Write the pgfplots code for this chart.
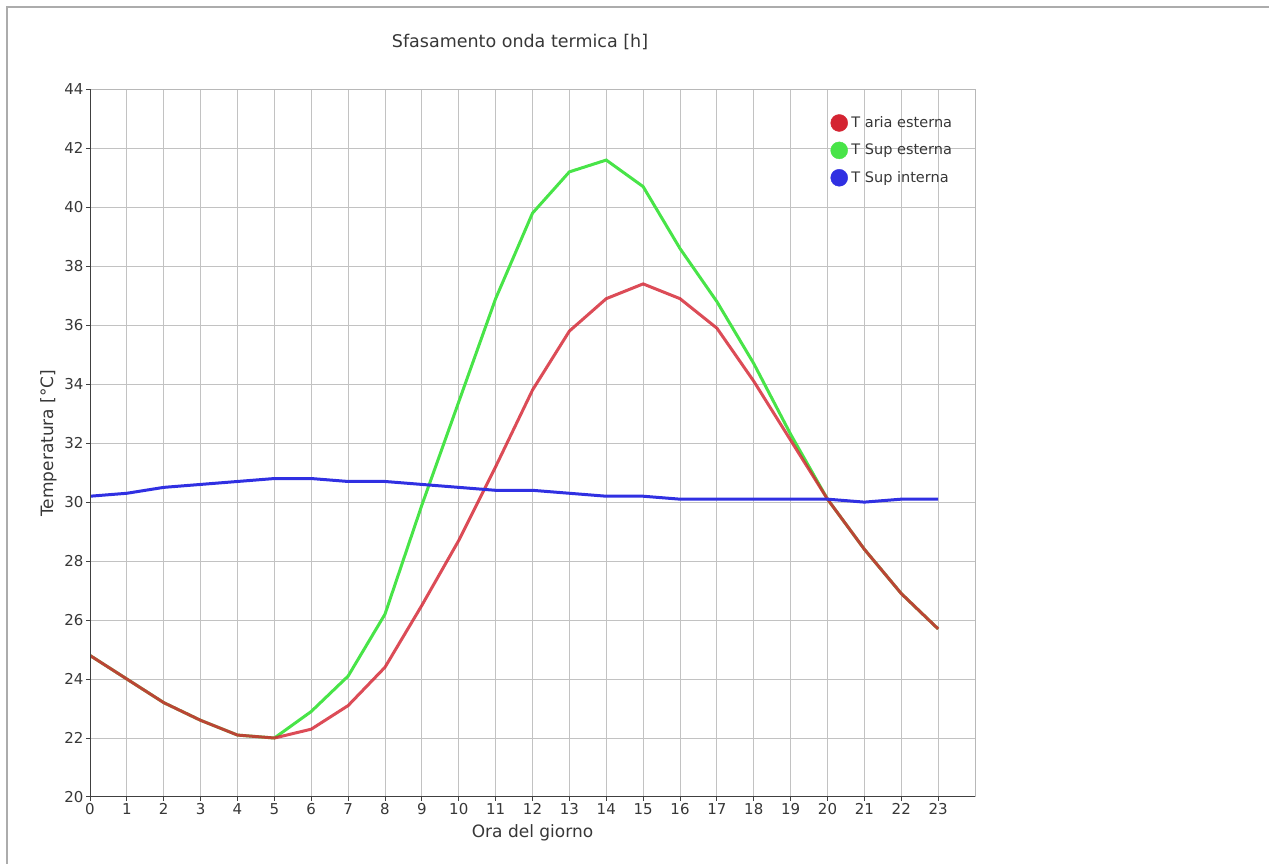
\documentclass[border=0pt]{standalone}
\usepackage{fontspec}
\setmainfont{DejaVu Sans}
\usepackage{pgfplots}
\pgfplotsset{compat=1.18}

\definecolor{cred}{RGB}{212,36,50}
\definecolor{cgreen}{RGB}{72,228,72}
\definecolor{cblue}{RGB}{48,48,226}
\definecolor{txt}{RGB}{55,55,55}

\begin{document}
\begin{tikzpicture}
% screenshot frame
\draw[gray!65, line width=2pt] (7pt,0pt) -- (7pt,857pt) -- (1269pt,857pt);

\node[text=txt, font=\fontsize{17.5}{19}\selectfont] at (520pt,822pt) {Sfasamento onda termica [h]};

\begin{axis}[
  at={(90pt,67pt)}, anchor=south west,
  scale only axis, width=885pt, height=707.7pt,
  xmin=0, xmax=24, ymin=20, ymax=44,
  xtick={0,...,23}, ytick={20,22,...,44},
  grid=major,
  major grid style={draw=black!24, line width=1pt},
  axis line style={draw=black!28, line width=1pt},
  tick align=outside, xtick pos=bottom, ytick pos=left,
  major tick length=4pt,
  tick style={draw=black!75, line width=1pt},
  /pgf/number format/assume math mode=true,
  ticklabel style={font=\fontsize{15}{16}\selectfont, text=txt},
  xticklabel style={yshift=1pt},
  yticklabel style={xshift=1pt},
  xlabel={Ora del giorno},
  ylabel={Temperatura [°C]},
  label style={font=\fontsize{17}{18}\selectfont, text=txt},
  xlabel style={at={(axis description cs:0.5,-0.051)}, anchor=center},
  ylabel style={at={(axis description cs:-0.047,0.5)}, anchor=center},
  legend cell align=left,
  legend style={draw=none, fill=none, at={(axis description cs:0.8365,0.965)}, anchor=north west,
    font=\fontsize{14.5}{16}\selectfont, text=txt, inner sep=0pt,
    nodes={inner sep=1pt}, row sep=10pt, column sep=2.5pt},
]
\addplot[cgreen, line width=3pt, forget plot] coordinates {
(0,24.8) (1,24.0) (2,23.2) (3,22.6) (4,22.1) (5,22.0) (6,22.9) (7,24.1)
(8,26.2) (9,29.9) (10,33.4) (11,36.9) (12,39.8) (13,41.2) (14,41.6) (15,40.7)
(16,38.6) (17,36.8) (18,34.7) (19,32.3) (20,30.1) (21,28.4) (22,26.9) (23,25.7)};
\addplot[cred, line width=3pt, opacity=0.82, forget plot] coordinates {
(0,24.8) (1,24.0) (2,23.2) (3,22.6) (4,22.1) (5,22.0) (6,22.3) (7,23.1)
(8,24.4) (9,26.5) (10,28.7) (11,31.2) (12,33.8) (13,35.8) (14,36.9) (15,37.4)
(16,36.9) (17,35.9) (18,34.1) (19,32.1) (20,30.1) (21,28.4) (22,26.9) (23,25.7)};
\addplot[cblue, line width=3pt, forget plot] coordinates {
(0,30.2) (1,30.3) (2,30.5) (3,30.6) (4,30.7) (5,30.8) (6,30.8) (7,30.7)
(8,30.7) (9,30.6) (10,30.5) (11,30.4) (12,30.4) (13,30.3) (14,30.2) (15,30.2)
(16,30.1) (17,30.1) (18,30.1) (19,30.1) (20,30.1) (21,30.0) (22,30.1) (23,30.1)};

\addlegendimage{legend image code/.code={\fill[cred] (8pt,0pt) circle (8.5pt);}}
\addlegendentry{T aria esterna}
\addlegendimage{legend image code/.code={\fill[cgreen] (8pt,0pt) circle (8.5pt);}}
\addlegendentry{T Sup esterna}
\addlegendimage{legend image code/.code={\fill[cblue] (8pt,0pt) circle (8.5pt);}}
\addlegendentry{T Sup interna}

\draw[black!75, line width=1.6pt] (rel axis cs:0,1) -- (rel axis cs:0,0) -- (rel axis cs:1,0);
\end{axis}

\pgfresetboundingbox
\path[use as bounding box] (0pt,0pt) rectangle (1269pt,864pt);
\end{tikzpicture}
\end{document}
